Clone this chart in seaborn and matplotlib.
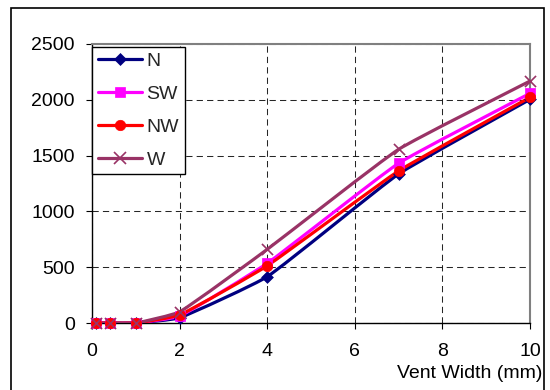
import matplotlib
matplotlib.use("Agg")
import matplotlib.pyplot as plt
import seaborn as sns
import pandas as pd
import numpy as np
from matplotlib.path import Path
from matplotlib.patches import PathPatch, Rectangle
from matplotlib.lines import Line2D

# ---- data ----
vent_width = [0.1, 0.4, 1.0, 2.0, 4.0, 7.0, 10.0]
series_names = ["N", "SW", "NW", "W"]
N_vals = [0, 0, 0, 47, 415, 1335, 2004]
SW_vals = [0, 0, 0, 62, 535, 1431, 2058]
NW_vals = [0, 0, 0, 72, 513, 1362, 2022]
W_vals = [0, 0, 0, 100, 660, 1556, 2168]
x_ticks = [0, 2, 4, 6, 8, 10]
y_ticks = [0, 500, 1000, 1500, 2000, 2500]

values = {"N": N_vals, "SW": SW_vals, "NW": NW_vals, "W": W_vals}
colors = {"N": "#000080", "SW": "#FF00FF", "NW": "#FF0000", "W": "#993366"}
markers = {"N": "D", "SW": "s", "NW": "o", "W": "x"}
msizes = {"N": 6, "SW": 7, "NW": 7.5, "W": 8}

df = pd.DataFrame([
    {"x": xv, "y": yv, "series": s}
    for s in series_names for xv, yv in zip(vent_width, values[s])
])

sns.set_theme(style="white")
plt.rcParams["font.family"] = ["Liberation Sans", "DejaVu Sans"]
FS = 14

fig = plt.figure(figsize=(5.5, 3.9), dpi=100)
ax = fig.add_axes([92 / 550, 67 / 390, 438 / 550, 279 / 390])
ax.set_xlim(0, 10)
ax.set_ylim(0, 2500)


def smooth_path(xs, ys, k=0.13):
    """Smoothed line (Excel style): Bezier segments through the data points,
    tangents computed in display space."""
    pts = ax.transData.transform(np.column_stack([xs, ys]))
    n = len(pts)
    verts = [pts[0]]
    codes = [Path.MOVETO]
    for i in range(n - 1):
        p0 = pts[i - 1] if i > 0 else pts[i]
        p1 = pts[i]
        p2 = pts[i + 1]
        p3 = pts[i + 2] if i + 2 < n else pts[i + 1]
        d12 = np.hypot(*(p2 - p1))
        t1 = p2 - p0
        t2 = p3 - p1
        t1 = t1 / (np.hypot(*t1) or 1)
        t2 = t2 / (np.hypot(*t2) or 1)
        c1 = p1 + t1 * d12 * k
        c2 = p2 - t2 * d12 * k
        verts += [c1, c2, p2]
        codes += [Path.CURVE4] * 3
    data_verts = ax.transData.inverted().transform(np.array(verts))
    return Path(data_verts, codes)


ax.set_xticks(x_ticks)
ax.set_yticks(y_ticks)
ax.grid(True, color="black", linestyle=(0, (6, 4)), linewidth=0.75, alpha=0.85)
ax.set_axisbelow(True)

for s in series_names:
    patch = PathPatch(smooth_path(vent_width, values[s]), facecolor="none",
                      edgecolor=colors[s], linewidth=2.3, zorder=3,
                      capstyle="round", joinstyle="round")
    ax.add_patch(patch)

for s in series_names:
    sub = df[df["series"] == s]
    sns.scatterplot(data=sub, x="x", y="y", ax=ax, color=colors[s],
                    marker=markers[s], s=msizes[s] ** 2,
                    edgecolor=colors[s] if markers[s] != "x" else None,
                    linewidth=1.2 if markers[s] == "x" else 0.5,
                    zorder=4, legend=False, clip_on=False)

ax.set_xlim(0, 10)
ax.set_ylim(0, 2500)
ax.set_xlabel("")
ax.set_ylabel("")
ax.set_xticklabels([str(t) for t in x_ticks])
ax.set_yticklabels([str(t) for t in y_ticks])
ax.tick_params(axis="both", labelsize=FS, colors="black", direction="out",
               length=4.5, width=0.8)
ax.tick_params(axis="y", pad=8)
ax.tick_params(axis="x", pad=10)
ax.yaxis.set_ticks_position("left")
ax.xaxis.set_ticks_position("bottom")

for side in ["left", "bottom"]:
    ax.spines[side].set_color("black")
    ax.spines[side].set_linewidth(1.0)
for side in ["top", "right"]:
    ax.spines[side].set_color("#808080")
    ax.spines[side].set_linewidth(1.5)
    ax.spines[side].set_visible(True)

handles = [Line2D([0], [0], color=colors[s], lw=2.3, marker=markers[s],
                  markersize=msizes[s], markeredgewidth=1.2 if s == "W" else 0.5,
                  markeredgecolor=colors[s], markerfacecolor=colors[s])
           for s in series_names]
leg = ax.legend(handles, series_names, loc="upper left",
                bbox_to_anchor=(0.0, 0.99), borderaxespad=0, fontsize=FS,
                frameon=True, fancybox=False, framealpha=1, edgecolor="black",
                handlelength=2.25, handletextpad=0.25, labelspacing=0.78,
                borderpad=0.3)
leg.get_frame().set_linewidth(1.0)
leg.set_zorder(10)

fig.text(542 / 550, 16 / 390, "Vent Width (mm)", ha="right", va="center",
         fontsize=FS, color="black")

fig.patches.append(Rectangle((11 / 550, -0.1), 533 / 550, 0.1 + 382 / 390,
                             transform=fig.transFigure, fill=False,
                             edgecolor="black", linewidth=1.2))

fig.savefig("out.png", dpi=100)
